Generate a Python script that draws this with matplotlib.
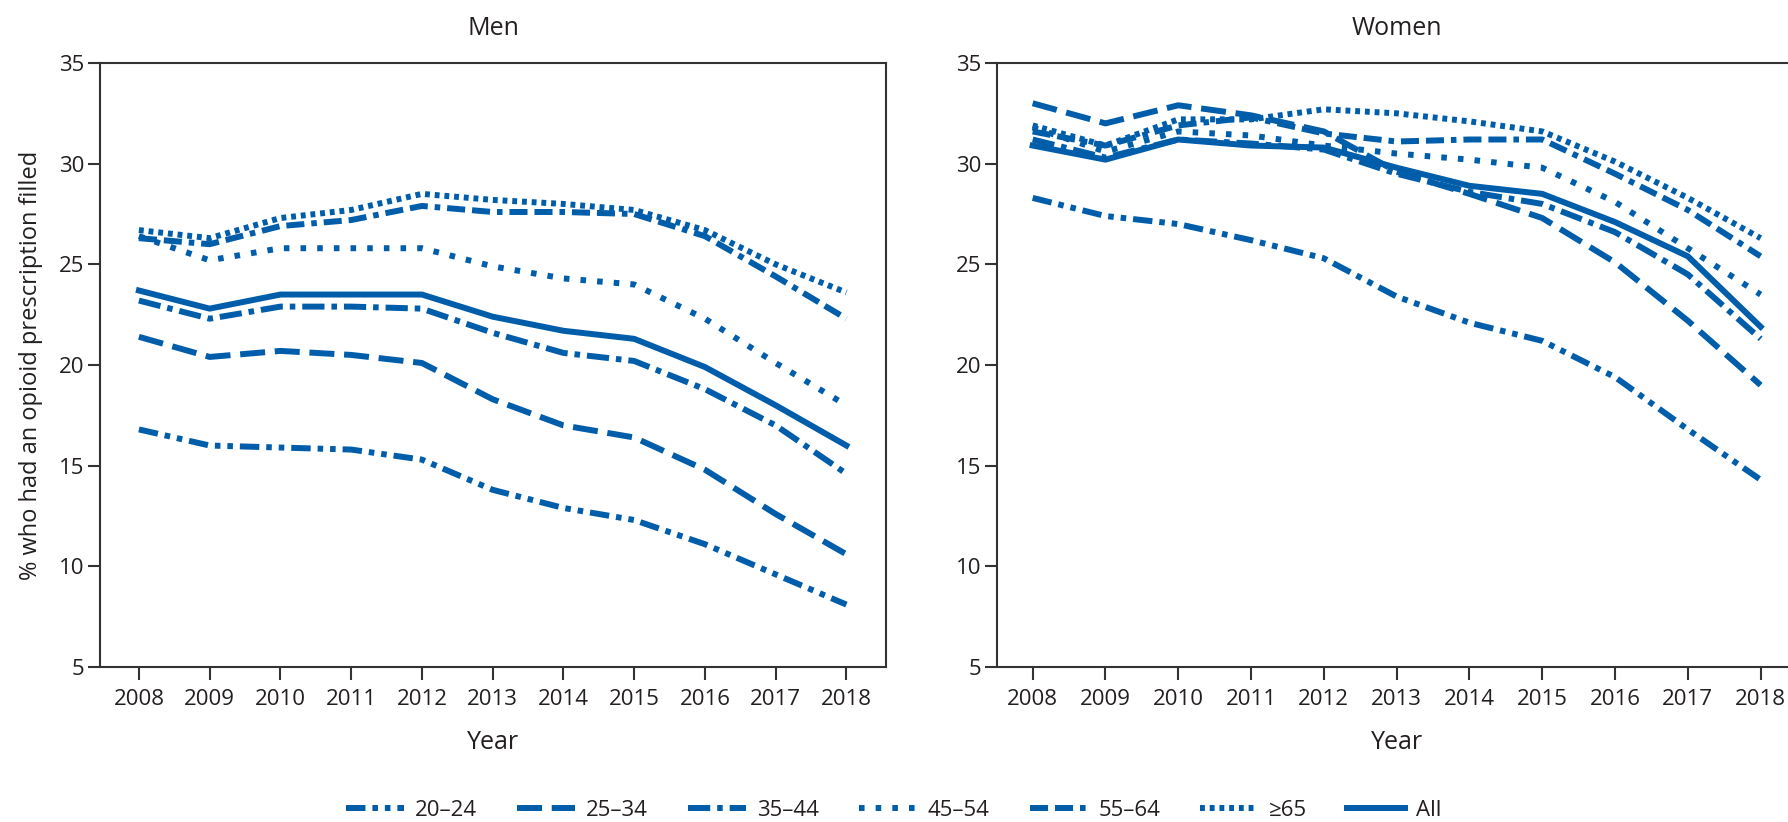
import matplotlib.pyplot as plt

plt.rcParams['font.family'] = ['Liberation Sans Narrow', 'Open Sans', 'DejaVu Sans']
plt.rcParams['lines.scale_dashes'] = False

years = list(range(2008, 2019))
groups = ["20–24", "25–34", "35–44", "45–54", "55–64", "≥65", "All"]

# men, % with an opioid prescription filled
men_20_24 = [16.8, 16.0, 15.9, 15.8, 15.3, 13.8, 12.9, 12.3, 11.1, 9.6, 8.1]
men_25_34 = [21.4, 20.4, 20.7, 20.5, 20.1, 18.3, 17.0, 16.4, 14.8, 12.6, 10.6]
men_35_44 = [23.2, 22.3, 22.9, 22.9, 22.8, 21.6, 20.6, 20.2, 18.8, 17.0, 14.6]
men_45_54 = [26.4, 25.2, 25.8, 25.8, 25.8, 24.9, 24.3, 24.0, 22.3, 20.1, 18.0]
men_55_64 = [26.3, 26.0, 26.9, 27.2, 27.9, 27.6, 27.6, 27.5, 26.4, 24.4, 22.3]
men_65 = [26.7, 26.3, 27.3, 27.7, 28.5, 28.2, 28.0, 27.7, 26.7, 25.0, 23.6]
men_all = [23.7, 22.8, 23.5, 23.5, 23.5, 22.4, 21.7, 21.3, 19.9, 18.0, 16.0]

# women
women_20_24 = [28.3, 27.4, 27.0, 26.2, 25.3, 23.4, 22.1, 21.2, 19.4, 16.8, 14.3]
women_25_34 = [33.0, 32.0, 32.9, 32.4, 31.6, 29.6, 28.5, 27.3, 25.1, 22.2, 19.0]
women_35_44 = [31.2, 30.3, 31.2, 31.0, 30.7, 29.5, 28.6, 28.0, 26.6, 24.5, 21.3]
women_45_54 = [31.8, 30.6, 31.6, 31.4, 30.9, 30.5, 30.2, 29.8, 28.1, 25.8, 23.5]
women_55_64 = [31.6, 30.9, 31.9, 32.3, 31.5, 31.1, 31.2, 31.2, 29.5, 27.7, 25.4]
women_65 = [31.9, 30.9, 32.2, 32.2, 32.7, 32.5, 32.1, 31.6, 30.1, 28.3, 26.3]
women_all = [30.9, 30.2, 31.2, 30.9, 30.8, 29.8, 28.9, 28.5, 27.1, 25.4, 21.9]

men = [men_20_24, men_25_34, men_35_44, men_45_54, men_55_64, men_65, men_all]
women = [women_20_24, women_25_34, women_35_44, women_45_54, women_55_64, women_65, women_all]

blue = '#005DAA'
txt = '#231f20'
styles = [
    (0, (14, 5, 4, 5, 4, 5)),
    (0, (18, 7)),
    (0, (16, 5, 4, 5)),
    (0, (4, 8)),
    (0, (13, 5, 13, 5, 4, 5)),
    (0, (3.5, 3.5)),
    '-',
]

fig = plt.figure(figsize=(17.88, 8.22), dpi=100)
ax1 = fig.add_axes([100/1788, 155/822, 786/1788, 604/822])
ax2 = fig.add_axes([997/1788, 155/822, 800/1788, 604/822])

for ax, data, title, xl in [(ax1, men, "Men", (2007.45, 2018.56)), (ax2, women, "Women", (2007.51, 2018.5))]:
    for i in range(len(data)):
        ax.plot(years, data[i], color=blue, lw=4.3, linestyle=styles[i], label=groups[i])
    ax.set_xlim(xl)
    ax.set_ylim(5, 35)
    ax.set_xticks(years)
    ax.set_yticks(range(5, 36, 5))
    ax.tick_params(direction='out', length=9, width=1.5, colors='#333333', labelcolor=txt, labelsize=16)
    ax.tick_params(axis='y', pad=2)
    ax.tick_params(axis='x', pad=7)
    for s in ax.spines.values():
        s.set_color('#333333')
        s.set_linewidth(1.5)
    ax.set_title(title, fontsize=18, color=txt, pad=20)
    ax.set_xlabel("Year", fontsize=18, color=txt, labelpad=14)

ax1.set_ylabel("% who had an opioid prescription filled", fontsize=17, color=txt, labelpad=12)

handles, labels = ax1.get_legend_handles_labels()
fig.legend(handles, labels, loc='center', bbox_to_anchor=(0.5, 0.014), ncol=7, frameon=False,
           fontsize=16, handlelength=2.6, handletextpad=0.5, columnspacing=1.8, labelcolor=txt)

fig.savefig('out.png', dpi=100)
